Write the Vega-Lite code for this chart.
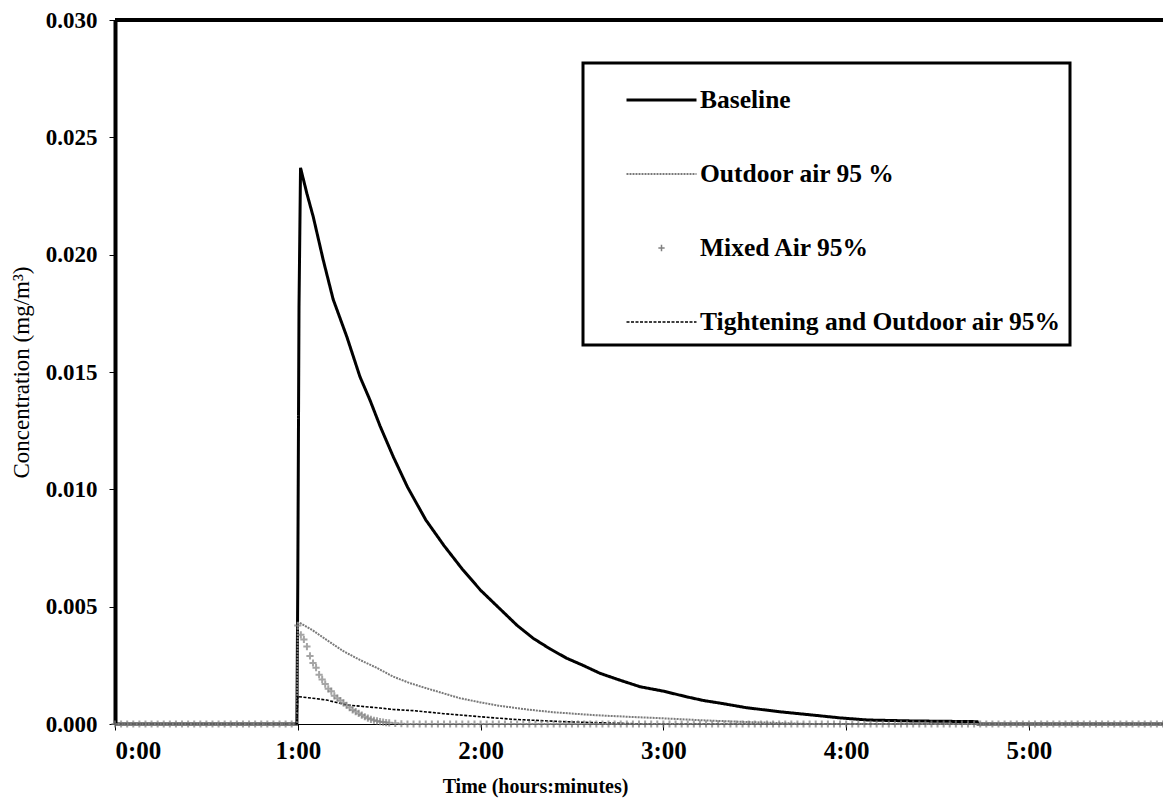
{
  "$schema": "https://vega.github.io/schema/vega-lite/v6.json",
  "autosize": {"type": "none"},
  "padding": {"left": 115, "top": 20, "right": 0, "bottom": 81},
  "width": 1048,
  "height": 704,
  "background": "white",
  "datasets": {
    "lines": [
      {"s":"B","m":0,"c":0},{"s":"B","m":59.7,"c":0},{"s":"B","m":60,"c":0.006},{"s":"B","m":60.4,"c":0.0178},{"s":"B","m":60.9,"c":0.0237},{"s":"B","m":63,"c":0.0226},{"s":"B","m":65.1,"c":0.0216},{"s":"B","m":68.3,"c":0.0198},{"s":"B","m":71.6,"c":0.0181},{"s":"B","m":76.1,"c":0.0165},{"s":"B","m":80.4,"c":0.0148},{"s":"B","m":83.7,"c":0.0138},{"s":"B","m":87,"c":0.0127},{"s":"B","m":91.3,"c":0.0114},{"s":"B","m":96,"c":0.0101},{"s":"B","m":102,"c":0.0087},{"s":"B","m":108,"c":0.0076},{"s":"B","m":114,"c":0.0066},{"s":"B","m":120,"c":0.0057},{"s":"B","m":126.4,"c":0.0049},{"s":"B","m":132,"c":0.0042},{"s":"B","m":137.3,"c":0.00365},{"s":"B","m":142.8,"c":0.0032},{"s":"B","m":148.3,"c":0.0028},{"s":"B","m":153.6,"c":0.0025},{"s":"B","m":159.2,"c":0.00216},{"s":"B","m":165,"c":0.0019},{"s":"B","m":172.3,"c":0.00159},{"s":"B","m":180,"c":0.0014},{"s":"B","m":187.6,"c":0.00116},{"s":"B","m":193.2,"c":0.001},{"s":"B","m":198.6,"c":0.00089},{"s":"B","m":207,"c":0.0007},{"s":"B","m":218.3,"c":0.00052},{"s":"B","m":229.1,"c":0.00038},{"s":"B","m":238,"c":0.00026},{"s":"B","m":247.1,"c":0.00017},{"s":"B","m":261.9,"c":0.00013},{"s":"B","m":283,"c":0.0001},{"s":"B","m":283.2,"c":0},{"s":"B","m":344,"c":0},
      {"s":"O","m":0,"c":0},{"s":"O","m":59.7,"c":0},{"s":"O","m":60,"c":0.0043},{"s":"O","m":60.5,"c":0.00432},{"s":"O","m":64.8,"c":0.004},{"s":"O","m":69.5,"c":0.00358},{"s":"O","m":75,"c":0.0031},{"s":"O","m":80.4,"c":0.00273},{"s":"O","m":85.8,"c":0.0024},{"s":"O","m":91.3,"c":0.00202},{"s":"O","m":96.6,"c":0.00175},{"s":"O","m":102.3,"c":0.00152},{"s":"O","m":108,"c":0.0013},{"s":"O","m":113.2,"c":0.0011},{"s":"O","m":120,"c":0.00092},{"s":"O","m":126,"c":0.00078},{"s":"O","m":135.1,"c":0.00062},{"s":"O","m":144,"c":0.0005},{"s":"O","m":157,"c":0.00038},{"s":"O","m":168,"c":0.00031},{"s":"O","m":178.8,"c":0.00025},{"s":"O","m":190.8,"c":0.00017},{"s":"O","m":204,"c":0.0001},{"s":"O","m":216,"c":0.00005},{"s":"O","m":228,"c":0},{"s":"O","m":344,"c":0},
      {"s":"T","m":0,"c":0},{"s":"T","m":59.7,"c":0},{"s":"T","m":60,"c":0.0012},{"s":"T","m":60.5,"c":0.00116},{"s":"T","m":66,"c":0.00108},{"s":"T","m":69.5,"c":0.00102},{"s":"T","m":76.1,"c":0.00081},{"s":"T","m":87,"c":0.00068},{"s":"T","m":91.3,"c":0.00062},{"s":"T","m":97.9,"c":0.00057},{"s":"T","m":108,"c":0.00044},{"s":"T","m":119.8,"c":0.00031},{"s":"T","m":130.6,"c":0.0002},{"s":"T","m":147,"c":0.0001},{"s":"T","m":162,"c":0.00004},{"s":"T","m":174,"c":0},{"s":"T","m":344,"c":0}
    ],
    "points": [
      {"s":"M","m":0,"c":0},{"s":"M","m":2,"c":0},{"s":"M","m":4,"c":0},{"s":"M","m":6,"c":0},{"s":"M","m":8,"c":0},{"s":"M","m":10,"c":0},{"s":"M","m":12,"c":0},{"s":"M","m":14,"c":0},{"s":"M","m":16,"c":0},{"s":"M","m":18,"c":0},{"s":"M","m":20,"c":0},{"s":"M","m":22,"c":0},{"s":"M","m":24,"c":0},{"s":"M","m":26,"c":0},{"s":"M","m":28,"c":0},{"s":"M","m":30,"c":0},{"s":"M","m":32,"c":0},{"s":"M","m":34,"c":0},{"s":"M","m":36,"c":0},{"s":"M","m":38,"c":0},{"s":"M","m":40,"c":0},{"s":"M","m":42,"c":0},{"s":"M","m":44,"c":0},{"s":"M","m":46,"c":0},{"s":"M","m":48,"c":0},{"s":"M","m":50,"c":0},{"s":"M","m":52,"c":0},{"s":"M","m":54,"c":0},{"s":"M","m":56,"c":0},{"s":"M","m":58,"c":0},
      {"s":"M","m":60,"c":0.0042},{"s":"M","m":61,"c":0.0038},{"s":"M","m":62,"c":0.0036},{"s":"M","m":63,"c":0.0033},{"s":"M","m":64,"c":0.0029},{"s":"M","m":65,"c":0.0026},{"s":"M","m":66,"c":0.0024},{"s":"M","m":67,"c":0.0021},{"s":"M","m":68,"c":0.0019},{"s":"M","m":69,"c":0.0017},{"s":"M","m":70,"c":0.0015},{"s":"M","m":71,"c":0.0014},{"s":"M","m":72,"c":0.0012},{"s":"M","m":73,"c":0.0011},{"s":"M","m":74,"c":0.001},{"s":"M","m":75,"c":0.0009},{"s":"M","m":76,"c":0.0008},{"s":"M","m":77,"c":0.0007},{"s":"M","m":78,"c":0.0006},{"s":"M","m":79,"c":0.00053},{"s":"M","m":80,"c":0.00045},{"s":"M","m":81,"c":0.00038},{"s":"M","m":82,"c":0.00031},{"s":"M","m":83,"c":0.00025},{"s":"M","m":84,"c":0.0002},{"s":"M","m":85,"c":0.00016},{"s":"M","m":86,"c":0.00013},{"s":"M","m":87,"c":0.0001},{"s":"M","m":88,"c":0.00008},{"s":"M","m":89,"c":0.00006},{"s":"M","m":90,"c":0.00005},{"s":"M","m":92,"c":0.00003},{"s":"M","m":94,"c":0.00001},
      {"s":"M","m":96,"c":0},{"s":"M","m":98,"c":0},{"s":"M","m":100,"c":0},{"s":"M","m":102,"c":0},{"s":"M","m":104,"c":0},{"s":"M","m":106,"c":0},{"s":"M","m":108,"c":0},{"s":"M","m":110,"c":0},{"s":"M","m":112,"c":0},{"s":"M","m":114,"c":0},{"s":"M","m":116,"c":0},{"s":"M","m":118,"c":0},{"s":"M","m":120,"c":0},{"s":"M","m":122,"c":0},{"s":"M","m":124,"c":0},{"s":"M","m":126,"c":0},{"s":"M","m":128,"c":0},{"s":"M","m":130,"c":0},{"s":"M","m":132,"c":0},{"s":"M","m":134,"c":0},{"s":"M","m":136,"c":0},{"s":"M","m":138,"c":0},{"s":"M","m":140,"c":0},{"s":"M","m":142,"c":0},{"s":"M","m":144,"c":0},{"s":"M","m":146,"c":0},{"s":"M","m":148,"c":0},{"s":"M","m":150,"c":0},{"s":"M","m":152,"c":0},{"s":"M","m":154,"c":0},{"s":"M","m":156,"c":0},{"s":"M","m":158,"c":0},{"s":"M","m":160,"c":0},{"s":"M","m":162,"c":0},{"s":"M","m":164,"c":0},{"s":"M","m":166,"c":0},{"s":"M","m":168,"c":0},{"s":"M","m":170,"c":0},{"s":"M","m":172,"c":0},{"s":"M","m":174,"c":0},{"s":"M","m":176,"c":0},{"s":"M","m":178,"c":0},{"s":"M","m":180,"c":0},{"s":"M","m":182,"c":0},{"s":"M","m":184,"c":0},{"s":"M","m":186,"c":0},{"s":"M","m":188,"c":0},{"s":"M","m":190,"c":0},{"s":"M","m":192,"c":0},{"s":"M","m":194,"c":0},{"s":"M","m":196,"c":0},{"s":"M","m":198,"c":0},{"s":"M","m":200,"c":0},{"s":"M","m":202,"c":0},{"s":"M","m":204,"c":0},{"s":"M","m":206,"c":0},{"s":"M","m":208,"c":0},{"s":"M","m":210,"c":0},{"s":"M","m":212,"c":0},{"s":"M","m":214,"c":0},{"s":"M","m":216,"c":0},{"s":"M","m":218,"c":0},{"s":"M","m":220,"c":0},{"s":"M","m":222,"c":0},{"s":"M","m":224,"c":0},{"s":"M","m":226,"c":0},{"s":"M","m":228,"c":0},{"s":"M","m":230,"c":0},{"s":"M","m":232,"c":0},{"s":"M","m":234,"c":0},{"s":"M","m":236,"c":0},{"s":"M","m":238,"c":0},{"s":"M","m":240,"c":0},{"s":"M","m":242,"c":0},{"s":"M","m":244,"c":0},{"s":"M","m":246,"c":0},{"s":"M","m":248,"c":0},{"s":"M","m":250,"c":0},{"s":"M","m":252,"c":0},{"s":"M","m":254,"c":0},{"s":"M","m":256,"c":0},{"s":"M","m":258,"c":0},{"s":"M","m":260,"c":0},{"s":"M","m":262,"c":0},{"s":"M","m":264,"c":0},{"s":"M","m":266,"c":0},{"s":"M","m":268,"c":0},{"s":"M","m":270,"c":0},{"s":"M","m":272,"c":0},{"s":"M","m":274,"c":0},{"s":"M","m":276,"c":0},{"s":"M","m":278,"c":0},{"s":"M","m":280,"c":0},{"s":"M","m":282,"c":0},{"s":"M","m":284,"c":0},{"s":"M","m":286,"c":0},{"s":"M","m":288,"c":0},{"s":"M","m":290,"c":0},{"s":"M","m":292,"c":0},{"s":"M","m":294,"c":0},{"s":"M","m":296,"c":0},{"s":"M","m":298,"c":0},{"s":"M","m":300,"c":0},{"s":"M","m":302,"c":0},{"s":"M","m":304,"c":0},{"s":"M","m":306,"c":0},{"s":"M","m":308,"c":0},{"s":"M","m":310,"c":0},{"s":"M","m":312,"c":0},{"s":"M","m":314,"c":0},{"s":"M","m":316,"c":0},{"s":"M","m":318,"c":0},{"s":"M","m":320,"c":0},{"s":"M","m":322,"c":0},{"s":"M","m":324,"c":0},{"s":"M","m":326,"c":0},{"s":"M","m":328,"c":0},{"s":"M","m":330,"c":0},{"s":"M","m":332,"c":0},{"s":"M","m":334,"c":0},{"s":"M","m":336,"c":0},{"s":"M","m":338,"c":0},{"s":"M","m":340,"c":0},{"s":"M","m":342,"c":0},{"s":"M","m":344,"c":0}
    ],
    "border": [{"c": 0.03}]
  },
  "layer": [
    {
      "data": {"name": "lines"},
      "mark": {"type": "line", "interpolate": "linear"},
      "encoding": {
        "x": {
          "field": "m", "type": "quantitative",
          "scale": {"domain": [0, 344], "nice": false, "zero": false},
          "axis": {
            "title": "Time (hours:minutes)",
            "values": [0, 60, 120, 180, 240, 300],
            "labelExpr": "floor(datum.value / 60) + ':00'",
            "labelFontSize": 25,
            "titleFontWeight": "bold", "titleFontSize": 20, "titlePadding": 13,
            "titleX": 420,
            "labelPadding": 8, "tickSize": 6, "domainWidth": 1
          }
        },
        "y": {
          "field": "c", "type": "quantitative",
          "scale": {"domain": [0, 0.03], "nice": false},
          "axis": {
            "title": "Concentration (mg/m³)",
            "values": [0, 0.005, 0.01, 0.015, 0.02, 0.025, 0.03],
            "format": ".3f",
            "labelFontSize": 23,
            "titleFontWeight": "normal", "titleFontSize": 23, "titlePadding": 12,
            "labelPadding": 12, "tickSize": 6, "domainWidth": 4
          }
        },
        "color": {
          "field": "s", "type": "nominal",
          "scale": {"domain": ["B", "O", "M", "T"], "range": ["#000000", "#7a7a7a", "#808080", "#000000"]},
          "legend": {
            "title": " ", "titleFontSize": 10, "titlePadding": 8,
            "orient": "none", "legendX": 468, "legendY": 43,
            "padding": 9, "strokeColor": "#000000", "fillColor": "#ffffff",
            "labelFont": "Liberation Serif", "labelFontWeight": "bold", "labelFontSize": 25.5, "labelColor": "#000000",
            "labelLimit": 800, "labelOffset": 2, "symbolSize": 4900, "clipHeight": 20, "rowPadding": 48, "symbolOffset": 33,
            "labelExpr": "datum.label == 'B' ? 'Baseline' : datum.label == 'O' ? 'Outdoor air 95 %' : datum.label == 'M' ? 'Mixed Air 95%' : 'Tightening and Outdoor air 95%'",
            "encode": {"legend": {"update": {"strokeWidth": {"value": 3}}}}
          }
        },
        "strokeDash": {
          "field": "s", "type": "nominal",
          "scale": {"domain": ["B", "O", "M", "T"], "range": [[1, 0], [2, 1], [1, 0], [3, 1.5]]}
        },
        "strokeWidth": {
          "field": "s", "type": "nominal",
          "scale": {"type": "ordinal", "domain": ["B", "O", "M", "T"], "range": [3, 2, 1.5, 1.6]}
        }
      }
    },
    {
      "data": {"name": "points"},
      "mark": {"type": "point", "filled": false, "strokeWidth": 2, "size": 6400},
      "encoding": {
        "x": {"field": "m", "type": "quantitative"},
        "y": {"field": "c", "type": "quantitative"},
        "color": {"field": "s", "type": "nominal"},
        "shape": {
          "field": "s", "type": "nominal",
          "scale": {"domain": ["B", "O", "M", "T"], "range": ["stroke", "stroke", "M-0.09,0H0.09M0,-0.09V0.09", "stroke"]}
        }
      }
    },
    {
      "data": {"name": "border"},
      "mark": {"type": "rule", "color": "#000000", "strokeWidth": 4},
      "encoding": {"y": {"field": "c", "type": "quantitative"}}
    }
  ],
  "config": {
    "view": {"stroke": null},
    "axis": {
      "labelFont": "Liberation Serif", "labelFontWeight": "bold", "labelColor": "#000000",
      "titleFont": "Liberation Serif", "titleColor": "#000000",
      "grid": false, "tickColor": "#000000", "domainColor": "#000000"
    }
  }
}
